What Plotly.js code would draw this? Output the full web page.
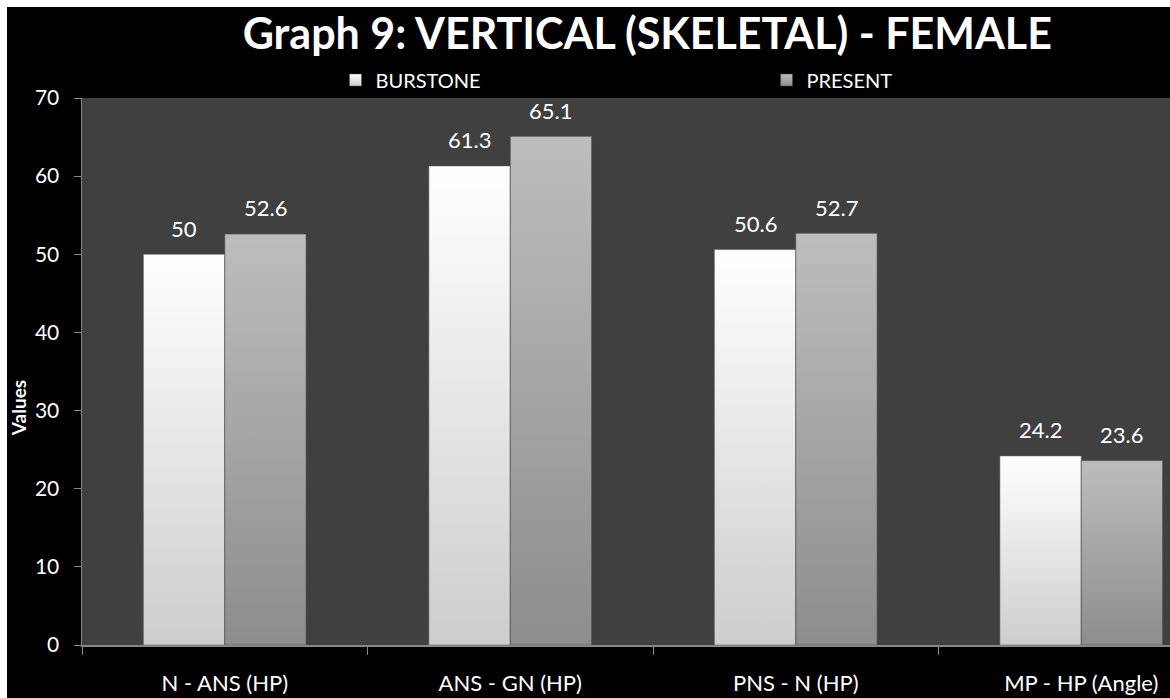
<!DOCTYPE html>
<html>
<head>
<meta charset="utf-8">
<script src="https://cdn.plot.ly/plotly-3.0.1.min.js"></script>
<style>
  html, body { margin: 0; padding: 0; background: #ffffff; overflow: hidden; width: 1170px; height: 698px; }
  #chart { position: absolute; left: 7px; top: 7px; width: 1230px; height: 691px; background: #000000; }
</style>
</head>
<body>
<div id="chart"></div>
<script>
// Chart data
const categories = ['N - ANS (HP)', 'ANS - GN (HP)', 'PNS - N (HP)', 'MP - HP (Angle)'];
const burstoneValues = [50, 61.3, 50.6, 24.2];
const presentValues = [52.6, 65.1, 52.7, 23.6];
const seriesNames = ['BURSTONE', 'PRESENT'];
const yTickValues = [0, 10, 20, 30, 40, 50, 60, 70];
const chartTitle = 'Graph 9: VERTICAL (SKELETAL) - FEMALE';
const yAxisTitle = 'Values';

// Styling
const FONT = 'Lato, "Open Sans", sans-serif';
const W = 1230, H = 691;
const M = { l: 75, r: 13, t: 91, b: 53 };
const BARGAP = 0.43;
const plotW = W - M.l - M.r;
const barPx = plotW / categories.length * (1 - BARGAP) / 2;

const gradients = [
  { id: 'gradBurstone', top: '#ffffff', bottom: '#cdcdcd', edge: 'rgba(90,90,90,0.55)' },
  { id: 'gradPresent', top: '#bdbdbd', bottom: '#8d8d8d', edge: 'rgba(70,70,70,0.6)' }
];

const seriesValues = [burstoneValues, presentValues];
const baseColors = ['#e8e8e8', '#a5a5a5'];

const traces = seriesValues.map((vals, i) => ({
  type: 'bar',
  name: seriesNames[i],
  x: categories,
  y: vals,
  marker: { color: baseColors[i], line: { color: gradients[i].edge, width: 1 } },
  hoverinfo: 'x+y+name'
}));

// value labels above each bar
const annotations = [];
seriesValues.forEach((vals, i) => {
  vals.forEach((v, j) => {
    annotations.push({
      x: categories[j], y: v, xref: 'x', yref: 'y',
      xshift: (i === 0 ? -1 : 1) * barPx / 2,
      yshift: 26, yanchor: 'middle', xanchor: 'center',
      text: String(v), showarrow: false,
      font: { family: FONT, size: 22, color: '#ffffff' }
    });
  });
});

annotations.push({
  xref: 'paper', yref: 'paper', x: 0, y: 0.433, xshift: -64,
  xanchor: 'center', yanchor: 'middle', textangle: -90,
  text: yAxisTitle, showarrow: false,
  font: { family: FONT, size: 19, color: '#ffffff', weight: 'bold' }
});

const layout = {
  width: W, height: H,
  margin: M,
  paper_bgcolor: '#000000',
  plot_bgcolor: '#404040',
  font: { family: FONT, color: '#ffffff', size: 20 },
  title: {
    text: chartTitle,
    font: { family: FONT, size: 43, color: '#ffffff', weight: 'bold' },
    x: 0.495, xref: 'paper', xanchor: 'center',
    y: 1 - 27 / H, yref: 'container', yanchor: 'middle'
  },
  barmode: 'group',
  bargap: BARGAP,
  bargroupgap: 0,
  showlegend: true,
  legend: {
    orientation: 'h',
    x: 0.222, xanchor: 'left', xref: 'paper',
    y: 1 + 18 / (H - M.t - M.b), yanchor: 'middle', yref: 'paper',
    font: { family: FONT, size: 20, color: '#ffffff' },
    bgcolor: 'rgba(0,0,0,0)',
    entrywidth: 386, entrywidthmode: 'pixels',
    itemclick: false, itemdoubleclick: false
  },
  xaxis: {
    type: 'category',
    showgrid: false,
    showline: true, linecolor: '#878787', linewidth: 1.5,
    ticks: 'outside', tickson: 'boundaries', ticklen: 8, tickcolor: '#878787', tickwidth: 1,
    tickfont: { family: FONT, size: 22, color: '#ffffff' },
    ticklabelstandoff: 18,
    fixedrange: true
  },
  yaxis: {
    range: [0, 70],
    tickvals: yTickValues,
    showgrid: false, zeroline: false,
    showline: true, linecolor: '#878787', linewidth: 1.5,
    ticks: 'outside', ticklen: 7, tickcolor: '#878787', tickwidth: 1,
    tickfont: { family: FONT, size: 21, color: '#ffffff' },
    ticklabelstandoff: 10,
    fixedrange: true
  },
  annotations: annotations
};

// Vertical gradient fills for bars and legend swatches
function applyGradients(gd) {
  const svg = gd.querySelector('svg.main-svg');
  if (!svg) return;
  const NS = 'http://www.w3.org/2000/svg';
  let defs = svg.querySelector('defs');
  if (!defs) { defs = document.createElementNS(NS, 'defs'); svg.insertBefore(defs, svg.firstChild); }
  gradients.forEach(g => {
    if (svg.querySelector('#' + g.id)) return;
    const lg = document.createElementNS(NS, 'linearGradient');
    lg.setAttribute('id', g.id);
    lg.setAttribute('x1', '0'); lg.setAttribute('y1', '0');
    lg.setAttribute('x2', '0'); lg.setAttribute('y2', '1');
    [[0, g.top], [1, g.bottom]].forEach(([o, c]) => {
      const s = document.createElementNS(NS, 'stop');
      s.setAttribute('offset', String(o));
      s.setAttribute('stop-color', c);
      lg.appendChild(s);
    });
    defs.appendChild(lg);
  });
  gd.querySelectorAll('.barlayer .trace').forEach((tr, i) => {
    tr.querySelectorAll('.point path').forEach(p => { p.style.fill = 'url(#' + gradients[i].id + ')'; });
  });
  gd.querySelectorAll('.legend .traces').forEach((tr, i) => {
    tr.querySelectorAll('.legendpoints path').forEach(p => { p.style.fill = 'url(#' + gradients[i].id + ')'; });
  });
}

const gd = document.getElementById('chart');
Plotly.newPlot(gd, traces, layout, { displayModeBar: false, staticPlot: true }).then(() => {
  applyGradients(gd);
  gd.on && gd.on('plotly_afterplot', () => applyGradients(gd));
});
</script>
</body>
</html>
